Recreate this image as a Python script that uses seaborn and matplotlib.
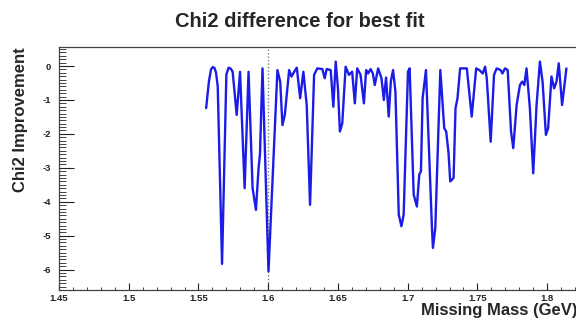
import numpy as np
import pandas as pd
import matplotlib
matplotlib.use("Agg")
import matplotlib.pyplot as plt
import seaborn as sns
from matplotlib.ticker import MultipleLocator

mass = [1.5555, 1.5575, 1.5590, 1.5602, 1.5615, 1.5626, 1.5638, 1.5669, 1.5700, 1.5716,
        1.5732, 1.5745, 1.5774, 1.5798, 1.5831, 1.5859, 1.5888, 1.5912, 1.5931, 1.5941,
        1.5959, 1.6002, 1.6066, 1.6086, 1.6102, 1.6119, 1.6150, 1.6167, 1.6186, 1.6205,
        1.6229, 1.6252, 1.6276, 1.6300, 1.6329, 1.6352, 1.6388, 1.6405, 1.6419, 1.6448,
        1.6467, 1.6484, 1.6500, 1.6514, 1.6531, 1.6555, 1.6579, 1.6602, 1.6621, 1.6638,
        1.6662, 1.6686, 1.6702, 1.6716, 1.6734, 1.6750, 1.6764, 1.6788, 1.6812, 1.6829,
        1.6845, 1.6864, 1.6879, 1.6895, 1.6912, 1.6936, 1.6955, 1.6971, 1.7002, 1.7014,
        1.7043, 1.7066, 1.7083, 1.7095, 1.7107, 1.7131, 1.7174, 1.7181, 1.7198, 1.7234,
        1.7262, 1.7276, 1.7293, 1.7305, 1.7329, 1.7343, 1.7357, 1.7376, 1.7424, 1.7459,
        1.7491, 1.7514, 1.7538, 1.7555, 1.7567, 1.7595, 1.7619, 1.7638, 1.7666, 1.7679,
        1.7698, 1.7717, 1.7741, 1.7757, 1.7781, 1.7805, 1.7821, 1.7836, 1.7852, 1.7876,
        1.7900, 1.7924, 1.7948, 1.7967, 1.7991, 1.8007, 1.8031, 1.8050, 1.8067, 1.8083,
        1.8107, 1.8138]

chi2_improvement = [-1.24, -0.45, -0.10, -0.03, -0.06, -0.20, -0.60, -5.83, -0.25, -0.05,
                    -0.08, -0.17, -1.44, -0.17, -3.60, -0.17, -3.60, -4.24, -3.00, -2.60,
                    -0.07, -6.05, -0.12, -0.46, -1.74, -1.44, -0.12, -0.31, -0.17, -0.05,
                    -0.95, -0.17, -1.15, -4.09, -0.26, -0.07, -0.09, -0.36, -0.09, -0.12,
                    -1.20, 0.13, -0.66, -1.93, -1.69, -0.02, -0.26, -0.17, -1.10, -0.07,
                    -0.26, -1.10, -0.12, -0.22, -0.09, -0.22, -0.56, -0.07, -0.36, -1.00,
                    -0.34, -1.49, -0.46, -0.12, -0.75, -4.38, -4.72, -4.38, -0.17, -0.07,
                    -3.79, -4.14, -3.20, -3.10, -0.95, -0.12, -4.77, -5.36, -4.77, -0.12,
                    -1.83, -1.93, -2.57, -3.40, -3.30, -1.24, -0.95, -0.07, -0.07, -1.49,
                    -0.07, -0.12, -0.22, -0.02, -0.36, -2.23, -0.26, -0.07, -0.12, -0.22,
                    -0.07, -0.12, -1.93, -2.42, -1.15, -0.56, -0.46, -0.56, -0.07, -1.24,
                    -3.16, -1.15, 0.13, -0.46, -2.03, -1.83, -0.31, -0.66, -0.46, 0.08,
                    -1.15, -0.07]

title = "Chi2 difference for best fit"
xlabel = "Missing Mass (GeV)"
ylabel = "Chi2 Improvement"
x_ticks = [1.45, 1.5, 1.55, 1.6, 1.65, 1.7, 1.75, 1.8]
x_ticklabels = ["1.45", "1.5", "1.55", "1.6", "1.65", "1.7", "1.75", "1.8"]
y_ticks = [0, -1, -2, -3, -4, -5, -6]
y_ticklabels = ["0", "-1", "-2", "-3", "-4", "-5", "-6"]
marker_x = 1.6

df = pd.DataFrame({"mass": mass, "chi2": chi2_improvement})

sns.set_style("ticks")
plt.rcParams["font.family"] = ["Liberation Sans", "DejaVu Sans"]

fig = plt.figure(figsize=(5.76, 3.2), dpi=100)
fig.patch.set_facecolor("white")
ax = fig.add_axes([59 / 576, 30 / 320, 1 - 59 / 576 + 0.002, (290 - 47) / 320])

sns.lineplot(data=df, x="mass", y="chi2", ax=ax, sort=False, estimator=None,
             color="#1c1ce8", linewidth=1.7)
ax.axvline(marker_x, color="#7a7a7a", linestyle=(0, (1, 1.5)), linewidth=1.0, zorder=0)

ax.set_xlim(1.45, 1.8215)
ax.set_ylim(-6.6, 0.56)

ax.set_xticks(x_ticks)
ax.set_xticklabels(x_ticklabels)
ax.set_yticks(y_ticks)
ax.set_yticklabels(y_ticklabels)
ax.xaxis.set_minor_locator(MultipleLocator(0.01))
ax.yaxis.set_minor_locator(MultipleLocator(0.1))

ax.tick_params(axis="y", which="major", direction="in", length=10.5, width=0.8,
               labelsize=6.8, pad=6, colors="#222222")
ax.tick_params(axis="y", which="minor", direction="in", length=5.2, width=0.6, colors="#222222")
ax.tick_params(axis="x", which="major", direction="in", length=5, width=0.8,
               labelsize=6.8, pad=3, colors="#222222")
ax.tick_params(axis="x", which="minor", direction="in", length=2.5, width=0.6, colors="#222222")
for lab in ax.get_xticklabels() + ax.get_yticklabels():
    lab.set_fontweight("bold")

for sp in ax.spines.values():
    sp.set_visible(True)
    sp.set_color("#444444")
    sp.set_linewidth(0.9)

ax.set_xlabel(xlabel, fontsize=12, fontweight="bold", loc="right", labelpad=0)
ax.set_ylabel(ylabel, fontsize=12, fontweight="bold", loc="top", labelpad=10)
fig.suptitle(title, fontsize=14.5, fontweight="bold", x=0.52, y=0.963, va="top")

fig.savefig("out.png", dpi=100, facecolor="white")
